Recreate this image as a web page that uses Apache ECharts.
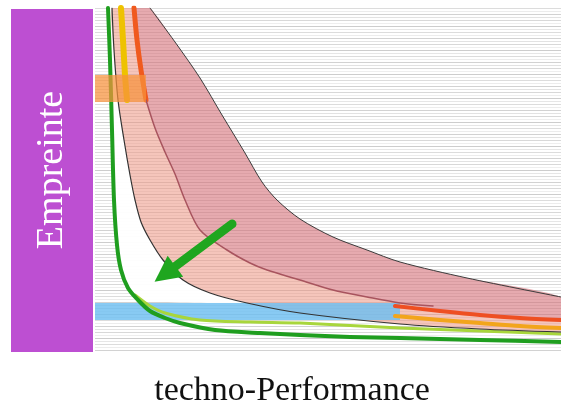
<!DOCTYPE html>
<html><head><meta charset="utf-8">
<script src="https://cdn.jsdelivr.net/npm/echarts@6/dist/echarts.min.js"></script>
<style>html,body{margin:0;padding:0;background:#fff}#c{width:561px;height:409px}</style>
</head><body><div id="c"></div>
<script>
// Abstract diagram units: x = performance (0..466), y = footprint (0..342)
const outerCurve = [[55,342],[80,308],[105,272],[127,235],[150,197],[167,168],[182,150],[205,131],[238,113],[272,100],[305,88],[372,72],[466,53]];
const innerCurve = [[17,342],[19,300],[23,250],[29,210],[35,175],[40,150],[46,128],[55,110],[68,90],[88,70],[115,57],[152,47],[205,37],[305,26],[385,21],[466,18]];
const redTop = [[39,342],[42,310],[46,280],[51,250]];
const brownMid = [[51,250],[60,222],[70,198],[80,176],[90,150],[105,120],[132,100],[155,87],[172,80],[205,70],[238,60],[272,53],[305,47],[338,44]];
const redRight = [[300,44],[345,39],[385,35],[425,32],[466,30]];
const yellowTop = [[26,342],[28,310],[30,275],[32,250]];
const yellowRight = [[300,34],[345,30],[385,27],[425,24],[466,22]];
const greenCurve = [[13,342],[15,290],[17,220],[19,150],[22,105],[26,80],[33,62],[43,50],[55,39],[70,32],[85,27],[120,20],[165,17],[205,15],[255,13],[305,12],[385,10],[466,8]];
const lightGreen = [[40,55],[55,44],[70,37],[105,30],[155,28],[205,27],[305,22],[385,19],[466,16]];
const blueBand = [[0,30],[305,47]];
const orangeBox = [[0,248],[51,275]];
const arrow = [[137,126],[70,76]];
const xName = 'techno-Performance';
const yName = 'Empreinte';

const pinkLower = [...redTop, ...brownMid.slice(1,13), ...redRight.slice(1)];
const pinkPoly = outerCurve.concat(pinkLower.slice().reverse());
const salmonPoly = pinkLower.concat(innerCurve.slice().reverse());
const whitePoly = greenCurve.slice(0,8).concat(innerCurve.slice(0,12).reverse());
function boxPts(b){return [[b[0][0],b[0][1]],[b[1][0],b[0][1]],[b[1][0],b[1][1]],[b[0][0],b[1][1]]];}

function poly(pts, fill, z, smooth){
  return {type:'custom', z:z, clip:true, silent:true, data:[[0,0]], encode:{x:0,y:1},
    renderItem:function(params, api){
      return {type:'polygon', shape:{points:pts.map(function(p){return api.coord(p);}), smooth:smooth||0}, style:{fill:fill}};
    }};
}
function line(data, color, width, z){
  return {type:'line', data:data, z:z, smooth:0.3, showSymbol:false, silent:true, clip:true,
    lineStyle:{color:color, width:width, cap:'round', join:'round'}};
}

const chart = echarts.init(document.getElementById('c'), null, {renderer:'canvas'});
chart.setOption({
  animation:false,
  backgroundColor:'#ffffff',
  grid:{left:95, right:0, top:8, bottom:59},
  xAxis:{type:'value', min:0, max:466, show:true, axisLine:{show:false}, axisTick:{show:false}, axisLabel:{show:false}, splitLine:{show:false}},
  yAxis:{type:'value', min:0, max:342, interval:3, axisLine:{show:false}, axisTick:{show:false}, axisLabel:{show:false},
    splitLine:{show:true, lineStyle:{width:1, color:['#d2d2d2','#ececec','#dcdcdc','#e6e6e6','#cdcdcd','#eeeeee','#d8d8d8','#e2e2e2']}}},
  series:[
    poly(whitePoly, 'rgba(255,255,255,0.95)', 1, 0.2),
    poly(salmonPoly, 'rgba(236,150,132,0.55)', 2, 0.2),
    poly(pinkPoly, 'rgba(212,108,118,0.58)', 3, 0.2),
    poly(boxPts(blueBand), 'rgba(110,190,240,0.82)', 4, 0),
    line(lightGreen, '#a8d63c', 3, 5),
    line(yellowRight, '#f2a51c', 4, 5),
    line(yellowTop, '#eec200', 6, 6),
    line(redRight, '#ee4f22', 4, 6),
    line(redTop, '#f05a1e', 5, 6),
    line(brownMid, '#a8545e', 1.5, 6),
    line(outerCurve, '#3b3b3b', 1, 7),
    line(innerCurve, '#333333', 1.2, 7),
    line(greenCurve, '#1f9e1f', 4, 8),
    poly(boxPts(orangeBox), 'rgba(247,145,60,0.72)', 9, 0),
    {type:'lines', coordinateSystem:'cartesian2d', z:10, silent:true, symbol:['none','triangle'], symbolSize:26,
      lineStyle:{color:'#1fa61f', width:9, opacity:1, cap:'round', curveness:0}, itemStyle:{color:'#1fa61f'},
      data:[{coords:arrow}]}
  ],
  graphic:[
    {type:'rect', shape:{x:11, y:9, width:82, height:343}, style:{fill:'#bd4fd2'}, z:1},
    {type:'text', x:52, y:170, rotation:Math.PI/2, z:2,
      style:{text:yName, fill:'#ffffff', fontSize:38, fontFamily:'"Liberation Serif", serif', align:'center', verticalAlign:'middle', textAlign:'center', textVerticalAlign:'middle'}},
    {type:'text', x:292, y:391, z:2,
      style:{text:xName, fill:'#111111', fontSize:34, fontFamily:'"Liberation Serif", serif', align:'center', verticalAlign:'middle', textAlign:'center', textVerticalAlign:'middle'}}
  ]
});
</script></body></html>
